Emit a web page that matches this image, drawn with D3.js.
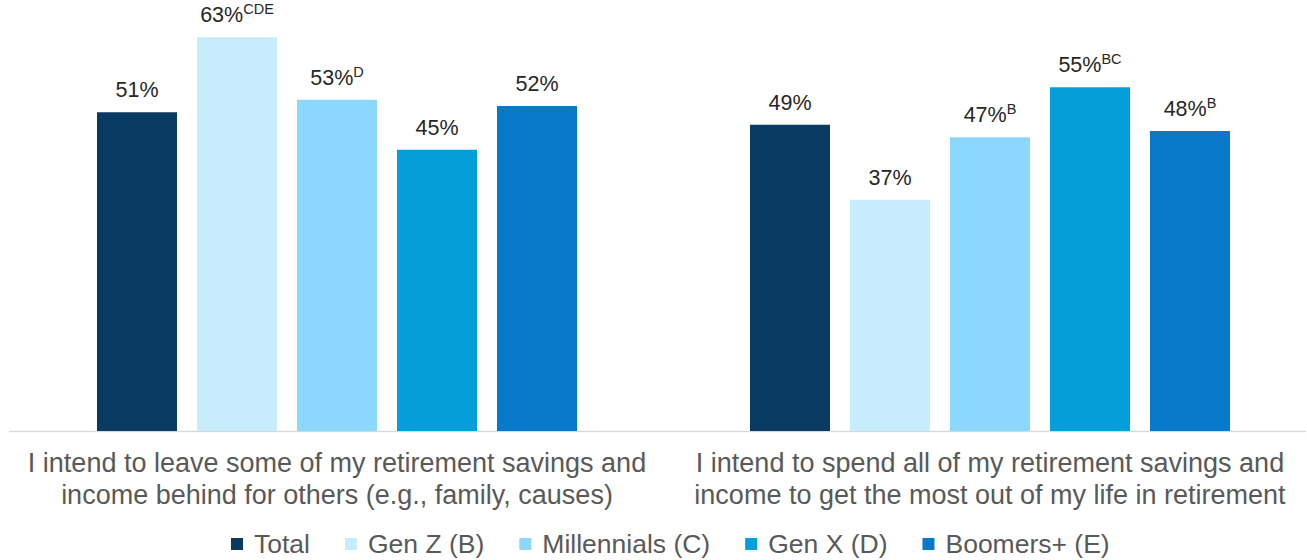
<!DOCTYPE html>
<html>
<head>
<meta charset="utf-8">
<script src="https://cdn.jsdelivr.net/npm/d3@7"></script>
<style>
  html, body { margin: 0; padding: 0; background: #fff; }
  svg { display: block; font-family: "Liberation Sans", Arial, sans-serif; }
</style>
</head>
<body>
<svg id="chart" width="1307" height="560"></svg>
<script>
const categories = [
  ["I intend to leave some of my retirement savings and", "income behind for others (e.g., family, causes)"],
  ["I intend to spend all of my retirement savings and", "income to get the most out of my life in retirement"]
];
const categoryKeys = ["leave", "spend"];
const seriesNames = ["Total", "Gen Z (B)", "Millennials (C)", "Gen X (D)", "Boomers+ (E)"];
const seriesColors = ["#093b62", "#c7edfd", "#8bd7fd", "#049fdb", "#0679c8"];
const totalVals = [51, 49];
const genZVals = [63, 37];
const millVals = [53, 47];
const genXVals = [45, 55];
const boomVals = [52, 48];
const totalSup = ["", ""];
const genZSup = ["CDE", ""];
const millSup = ["D", "B"];
const genXSup = ["", "BC"];
const boomSup = ["", "B"];

const seriesValues = [totalVals, genZVals, millVals, genXVals, boomVals];
const seriesSups = [totalSup, genZSup, millSup, genXSup, boomSup];

const svg = d3.select("#chart");
const baseY = 431;
const y = d3.scaleLinear().domain([0, 70]).range([baseY, baseY - 6.25 * 70]);
const x0 = d3.scaleBand().domain(categoryKeys).range([10.5, 1316.5]).padding(0);
const x1 = d3.scaleBand().domain(seriesNames).range([86.5, 566.5]).paddingInner(0.2);

const data = [];
categoryKeys.forEach((c, ci) => {
  seriesNames.forEach((s, si) => {
    data.push({cat: c, ci, series: s, si, value: seriesValues[si][ci], sup: seriesSups[si][ci]});
  });
});

// axis baseline
svg.append("line")
  .attr("x1", 9).attr("x2", 1306)
  .attr("y1", baseY + 0.5).attr("y2", baseY + 0.5)
  .attr("stroke", "#d9d9d9").attr("stroke-width", 1.5);

const g = svg.append("g");
g.selectAll("rect").data(data).join("rect")
  .attr("x", d => x0(d.cat) + x1(d.series))
  .attr("width", x1.bandwidth())
  .attr("y", d => y(d.value))
  .attr("height", d => baseY - y(d.value))
  .attr("fill", d => seriesColors[d.si]);

const labels = g.selectAll("text.val").data(data).join("text")
  .attr("class", "val")
  .attr("x", d => x0(d.cat) + x1(d.series) + x1.bandwidth() / 2)
  .attr("y", d => y(d.value) - 15)
  .attr("text-anchor", "middle")
  .attr("fill", "#262626")
  .attr("font-size", 21.5);
labels.append("tspan").text(d => d.value + "%");
labels.filter(d => d.sup).append("tspan")
  .attr("font-size", 14.5)
  .attr("dy", -8)
  .text(d => d.sup);

// category labels
categoryKeys.forEach((c, ci) => {
  const t = svg.append("text")
    .attr("text-anchor", "middle")
    .attr("fill", "#595959")
    .attr("font-size", 27);
  categories[ci].forEach((line, li) => {
    t.append("tspan")
      .attr("x", x0(c) + x0.bandwidth() / 2)
      .attr("y", 472 + li * 32)
      .text(line);
  });
});

// legend
const legend = svg.append("g");
let cx = 0;
seriesNames.forEach((s, i) => {
  const it = legend.append("g");
  it.append("rect").attr("x", 0).attr("y", -15).attr("width", 12).attr("height", 12).attr("fill", seriesColors[i]);
  const tx = it.append("text").attr("x", 23).attr("y", 0).attr("font-size", 26.5)
    .attr("fill", "#595959").text(s);
  const w = 23 + tx.node().getComputedTextLength();
  it.attr("transform", `translate(${cx},0)`);
  cx += w + 35;
});
const totalW = cx - 35;
legend.attr("transform", `translate(${Math.round(670 - totalW / 2)},553)`);
</script>
</body>
</html>
